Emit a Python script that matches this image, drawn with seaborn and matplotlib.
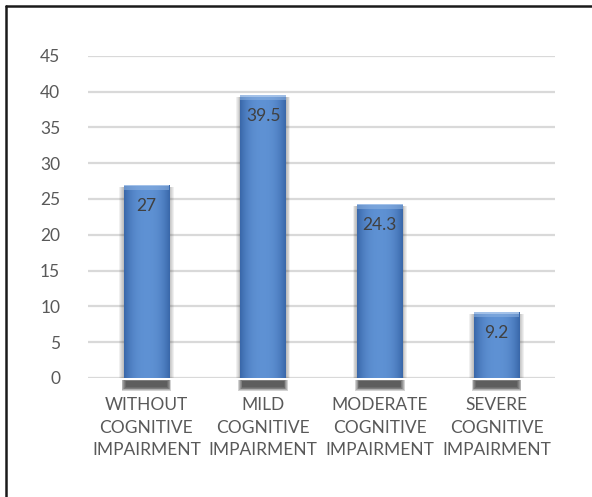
import numpy as np
import pandas as pd
import matplotlib
matplotlib.use("Agg")
import matplotlib.pyplot as plt
from matplotlib.patches import Rectangle
from matplotlib.lines import Line2D
import seaborn as sns

categories = [
    "WITHOUT\nCOGNITIVE\nIMPAIRMENT",
    "MILD\nCOGNITIVE\nIMPAIRMENT",
    "MODERATE\nCOGNITIVE\nIMPAIRMENT",
    "SEVERE\nCOGNITIVE\nIMPAIRMENT",
]
values = [27, 39.5, 24.3, 9.2]
value_labels = ["27", "39.5", "24.3", "9.2"]
y_ticks = [0, 5, 10, 15, 20, 25, 30, 35, 40, 45]

df = pd.DataFrame({"category": categories, "value": values})

sns.set_theme(style="white")
plt.rcParams["font.family"] = ["Lato", "DejaVu Sans"]
text_color = "#595959"

W, H = 592, 497
fig = plt.figure(figsize=(W / 100, H / 100), dpi=100)
ax = fig.add_axes([88 / W, (H - 378) / H, (555 - 88) / W, (378 - 55.7) / H])

sns.barplot(data=df, x="category", y="value", color="#4f81bd", width=0.39,
            saturation=1, ax=ax, zorder=3)

ax.set_ylim(0, 45)
ax.set_xlim(-0.5, len(categories) - 0.5)
ax.set_yticks(y_ticks)
ax.set_yticklabels([str(t) for t in y_ticks])
ax.yaxis.grid(True, color="#d9d9d9", linewidth=1.6, zorder=0)
ax.set_axisbelow(True)
for s in ax.spines.values():
    s.set_visible(False)
ax.tick_params(axis="y", length=0, pad=20, labelsize=12.5, labelcolor=text_color)
ax.tick_params(axis="x", length=0, pad=14, labelsize=12.5, labelcolor=text_color)
for lab in ax.get_xticklabels():
    lab.set_linespacing(1.5)
ax.set_xlabel("")
ax.set_ylabel("")

# pixel -> data scale factors for shading
px_x = 1.0 / ((555 - 88) / len(categories))
px_y = 45.0 / (378 - 55.7)

grad = np.linspace(-1, 1, 200)
shade = 1 - np.abs(grad) ** 2.5
c_edge = np.array([0.22, 0.40, 0.66])
c_mid = np.array([0.37, 0.57, 0.83])
img = c_edge[None, :] + (c_mid - c_edge)[None, :] * shade[:, None]
img = img[None, :, :]

for bar in ax.patches:
    x0, w, h = bar.get_x(), bar.get_width(), bar.get_height()
    # soft grey halo along the sides of the bar
    for k in range(5):
        grow = (5 - k) * 0.9
        ax.add_patch(Rectangle((x0 - grow * px_x, 0), w + 2 * grow * px_x,
                               h - 2 * px_y, facecolor="#303030", edgecolor="none",
                               alpha=0.07, zorder=2))
    # dark blurred shadow under the base of the bar
    for k in range(6):
        g = k * 0.8
        top = -1.5 - 0.4 * g
        bottom = -13 + g
        ax.add_patch(Rectangle((x0 + (g - 2) * px_x, bottom * px_y),
                               w - (2 * g - 4) * px_x, (top - bottom) * px_y,
                               facecolor="#262626", edgecolor="none",
                               alpha=0.2, zorder=1, clip_on=False))
    # horizontal gradient fill
    im = ax.imshow(img, extent=(x0, x0 + w, 0, h), aspect="auto",
                   zorder=4, interpolation="bicubic")
    im.set_clip_path(bar)
    bar.set_facecolor("none")
    bar.set_edgecolor("none")
    # light bevel along the top edge
    ax.add_patch(Rectangle((x0, h - 5 * px_y), w, 5 * px_y,
                           facecolor="#8fb4e3", edgecolor="none", alpha=0.55, zorder=5))
    ax.add_patch(Rectangle((x0, h - 1.5 * px_y), w, 1.5 * px_y,
                           facecolor="#b7d0f0", edgecolor="none", alpha=0.7, zorder=5))

for i, (v, lab) in enumerate(zip(values, value_labels)):
    ax.annotate(lab, xy=(i, v), xytext=(0, -21), textcoords="offset pixels",
                ha="center", va="center", fontsize=12.5, color="#404040", zorder=6)

# frame lines along the top and left of the figure
fig.add_artist(Line2D([6 / W, 6 / W], [0, 1 - 6 / H], transform=fig.transFigure,
                      color="#1a1a1a", linewidth=1.8))
fig.add_artist(Line2D([6 / W, 1], [1 - 6 / H, 1 - 6 / H], transform=fig.transFigure,
                      color="#1a1a1a", linewidth=1.8))

fig.savefig("out.png", dpi=100)
